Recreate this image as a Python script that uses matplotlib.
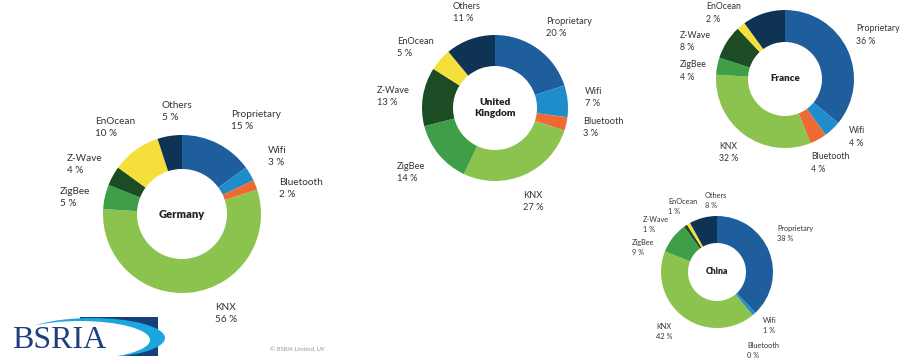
import matplotlib
matplotlib.use("Agg")
import matplotlib.pyplot as plt
from matplotlib.patches import Rectangle, Ellipse

W, H = 901, 360

techs = ['Proprietary', 'Wifi', 'Bluetooth', 'KNX', 'ZigBee', 'Z-Wave', 'EnOcean', 'Others']
colors = ['#1f5e9c', '#1e8dca', '#ee6a33', '#8bc34e', '#3e9f48', '#1b4c24', '#f5df3a', '#0e3355']

germany = [15, 3, 2, 56, 5, 4, 10, 5]
uk = [20, 7, 3, 27, 14, 13, 5, 11]
france = [36, 4, 4, 32, 4, 8, 2, 10]
china = [38, 1, 0, 42, 9, 1, 1, 8]

titles = ['Germany', 'United\nKingdom', 'France', 'China']

# donut centre / radius / hole radius in pixels
geo = [
    (182, 214, 79, 45),
    (495, 108, 73, 42),
    (785, 79, 69, 37),
    (717, 272, 56, 29),
]

# top-left of each label, pixels (None = off the picture)
label_pos = [
    [(231, 110), (268, 146), (279, 178), (215, 303), (60, 187), (67, 154), (95, 117), (162, 101)],
    [(546, 17), (585, 87), (583, 117), (523, 191), (397, 162), (377, 86), (397, 37), (453, 2)],
    [(856, 24), (849, 126), (811, 152), (719, 142), (680, 60), (680, 31), (706, 2), None],
    [(777, 225), (763, 317), (747, 342), (656, 323), (632, 239), (643, 216), (668, 198), (705, 192)],
]
font_sizes = [7.2, 6.7, 6.3, 5.3]
title_sizes = [8.0, 7.3, 7.0, 6.2]
spacing = [1.45, 1.45, 1.5, 1.5]

fig = plt.figure(figsize=(W / 100, H / 100), dpi=100)
fig.patch.set_facecolor('white')
plt.rcParams['font.family'] = ['Lato', 'DejaVu Sans']

for vals, title, (cx, cy, r, hole), pos, fs, ts, ls in zip(
        [germany, uk, france, china], titles, geo, label_pos, font_sizes, title_sizes, spacing):
    ax = fig.add_axes([(cx - r) / W, 1 - (cy + r) / H, 2 * r / W, 2 * r / H])
    ax.pie(vals, colors=colors, startangle=90, counterclock=False, radius=1,
           wedgeprops=dict(width=1 - hole / r, linewidth=0))
    ax.set_xlim(-1, 1)
    ax.set_ylim(-1, 1)
    ax.set_aspect('equal')
    ax.axis('off')
    ax.text(0, 0, title, ha='center', va='center', fontsize=ts, fontweight='heavy',
            color='#222222', linespacing=1.3)
    for name, v, p in zip(techs, vals, pos):
        if p is None:
            continue
        fig.text(p[0] / W, 1 - p[1] / H, f'{name}\n{v} %', ha='left', va='top',
                 fontsize=fs, color='#333333', linespacing=ls)

# BSRIA logo
lax = fig.add_axes([0, 0, 1, 1], zorder=-1)
lax.set_xlim(0, W)
lax.set_ylim(H, 0)
lax.axis('off')
lax.add_patch(Rectangle((80, 317), 78, 40, color='#173f7a', lw=0))
lax.add_patch(Ellipse((92, 338), 146, 40, color='#1ba6e0', lw=0))
lax.add_patch(Ellipse((80, 340), 140, 38, color='white', lw=0))
lax.add_patch(Rectangle((0, 356), 170, 4, color='white', lw=0))
lax.text(12, 340, 'BSRIA', fontsize=23, color='#1d3f7c', family='Liberation Serif',
         ha='left', va='center')

fig.text(270 / W, 1 - 349 / H, '© BSRIA Limited, UK', fontsize=4.5, style='italic',
         color='#999999', ha='left', va='center')

fig.savefig('out.png', dpi=100, facecolor='white')
